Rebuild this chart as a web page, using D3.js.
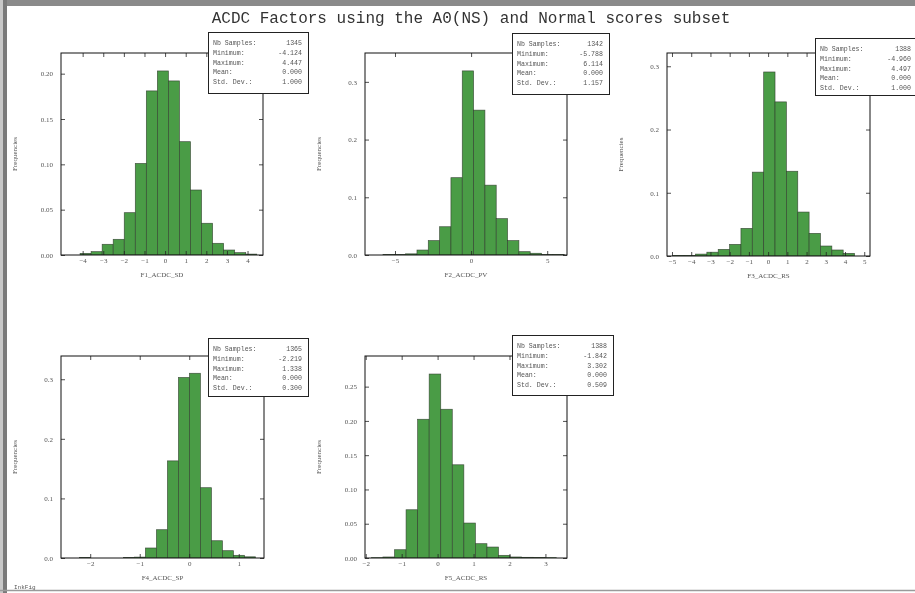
<!DOCTYPE html>
<html>
<head>
<meta charset="utf-8">
<script src="https://cdn.jsdelivr.net/npm/d3@7"></script>
<style>
  body { margin: 0; background: #fff; }
  svg { display: block; will-change: transform; }
  .tick-label { font-family: 'Liberation Serif', serif; font-size: 7px; fill: #555; }
  .ax-label { font-family: 'Liberation Serif', serif; font-size: 7px; fill: #555; }
  .box-text { font-family: 'Liberation Mono', monospace; font-size: 6.6px; fill: #555; }
  .title { font-family: 'Liberation Mono', monospace; font-size: 16px; fill: #333; }
</style>
</head>
<body>
<svg id="chart" width="915" height="593"></svg>
<script>
// ========== data

const title = 'ACDC Factors using the A0(NS) and Normal scores subset';
const factorNames = ['F1_ACDC_SD', 'F2_ACDC_PV', 'F3_ACDC_RS', 'F4_ACDC_SP', 'F5_ACDC_RS'];
const yLabel = 'Frequencies';

// 16 bins between min and max, frequency per bin
const f1Freq = [0.0018, 0.0037, 0.0118, 0.0173, 0.0467, 0.101, 0.181, 0.203, 0.192, 0.125, 0.0717, 0.035, 0.0129, 0.0055, 0.0026, 0.001];
const f2Freq = [0.0007, 0.0007, 0.002, 0.0086, 0.025, 0.049, 0.134, 0.319, 0.251, 0.121, 0.063, 0.025, 0.0058, 0.003, 0.0007, 0.0007];
const f3Freq = [0.001, 0.001, 0.003, 0.006, 0.0105, 0.0184, 0.0437, 0.1326, 0.291, 0.2437, 0.134, 0.0695, 0.0358, 0.0158, 0.0095, 0.0042];
const f4Freq = [0.0007, 0, 0, 0, 0.0007, 0.0015, 0.0168, 0.0475, 0.163, 0.303, 0.31, 0.118, 0.029, 0.0123, 0.0045, 0.002];
const f5Freq = [0.0005, 0.0015, 0.0121, 0.0704, 0.2024, 0.2684, 0.217, 0.136, 0.051, 0.0209, 0.016, 0.0039, 0.0015, 0.001, 0.0008, 0.0005];

const nbSamples = [1345, 1342, 1388, 1365, 1388];
const minimums  = [-4.124, -5.788, -4.960, -2.219, -1.842];
const maximums  = [4.447, 6.114, 4.497, 1.338, 3.302];
const means     = [0.000, 0.000, 0.000, 0.000, 0.000];
const stdDevs   = [1.000, 1.157, 1.000, 0.300, 0.509];

// axis limits and ticks
const xLimits = [[-5.05, 4.75], [-6.97, 6.3], [-5.26, 5.3], [-2.59, 1.51], [-2.02, 3.6]];
const yLimits = [[0, 0.2228], [0, 0.35], [0, 0.321], [0, 0.339], [0, 0.2947]];
const xTicks = [
  [-4, -3, -2, -1, 0, 1, 2, 3, 4],
  [-5, 0, 5],
  [-5, -4, -3, -2, -1, 0, 1, 2, 3, 4, 5],
  [-2, -1, 0, 1],
  [-2, -1, 0, 1, 2, 3]
];
const yTicks = [
  [0, 0.05, 0.10, 0.15, 0.20],
  [0, 0.1, 0.2, 0.3],
  [0, 0.1, 0.2, 0.3],
  [0, 0.1, 0.2, 0.3],
  [0, 0.05, 0.10, 0.15, 0.20, 0.25]
];
const yFormats = ['.2f', '.1f', '.1f', '.1f', '.2f'];

const freqs = [f1Freq, f2Freq, f3Freq, f4Freq, f5Freq];

// ========== layout

const axesBoxes = [ // left, top, width, height
  [61, 53, 202, 202],
  [365, 53, 202, 202],
  [667, 53, 203, 203],
  [61, 356, 203, 202],
  [365, 356, 202, 202]
];
const statBoxes = [ // x, y, w, h
  [208, 32, 100, 61],
  [512, 33, 97, 61],
  [815, 38, 102, 57],
  [208, 338, 100, 58],
  [512, 335, 101, 60]
];

const barFill = '#4a9c46';
const barStroke = '#2e3a2c';

const svg = d3.select('#chart');

// window frame
svg.append('rect').attr('x', 0).attr('y', 0).attr('width', 915).attr('height', 6).attr('fill', '#8a8a8a');
svg.append('rect').attr('x', 0).attr('y', 0).attr('width', 7).attr('height', 593).attr('fill', '#7a7a7a');
svg.append('rect').attr('x', 0).attr('y', 0).attr('width', 3).attr('height', 593).attr('fill', '#c8c8c8');
svg.append('line').attr('x1', 0).attr('x2', 915).attr('y1', 590.5).attr('y2', 590.5)
  .attr('stroke', '#9a9a9a').attr('stroke-width', 1.5);
svg.append('text').attr('x', 14).attr('y', 589).attr('class', 'box-text').style('font-size', '6px').text('InkFig');

svg.append('text')
  .attr('class', 'title')
  .attr('x', 471).attr('y', 23)
  .attr('text-anchor', 'middle')
  .text(title);

// ========== panels

freqs.forEach(function(freq, i) {
  const [left, top, w, h] = axesBoxes[i];
  const x = d3.scaleLinear().domain(xLimits[i]).range([left, left + w]);
  const y = d3.scaleLinear().domain(yLimits[i]).range([top + h, top]);
  const binW = (maximums[i] - minimums[i]) / freq.length;
  const bins = freq.map(function(f, k) {
    return { x0: minimums[i] + k * binW, x1: minimums[i] + (k + 1) * binW, f: f };
  });

  const g = svg.append('g');

  g.append('defs').append('clipPath').attr('id', 'clip' + i)
    .append('rect').attr('x', left).attr('y', top).attr('width', w).attr('height', h);

  g.append('g').attr('clip-path', 'url(#clip' + i + ')')
    .selectAll('rect').data(bins).enter().append('rect')
    .attr('x', function(d) { return x(d.x0); })
    .attr('width', function(d) { return x(d.x1) - x(d.x0); })
    .attr('y', function(d) { return y(d.f); })
    .attr('height', function(d) { return y(0) - y(d.f); })
    .attr('fill', barFill)
    .attr('stroke', barStroke)
    .attr('stroke-opacity', 0.8)
    .attr('stroke-width', 0.7);

  // bottom and left axes, ticks inside
  const fmtY = d3.format(yFormats[i]);
  const xb = g.append('g').attr('transform', 'translate(0,' + (top + h) + ')')
    .call(d3.axisBottom(x).tickValues(xTicks[i]).tickSizeInner(-4).tickSizeOuter(0).tickPadding(3)
      .tickFormat(d3.format('d')));
  const yl = g.append('g').attr('transform', 'translate(' + left + ',0)')
    .call(d3.axisLeft(y).tickValues(yTicks[i]).tickSizeInner(-4).tickSizeOuter(0).tickPadding(8)
      .tickFormat(fmtY));
  // mirror ticks on top and right
  const xt = g.append('g').attr('transform', 'translate(0,' + top + ')')
    .call(d3.axisTop(x).tickValues(xTicks[i]).tickSizeInner(-4).tickSizeOuter(0).tickFormat(''));
  const yr = g.append('g').attr('transform', 'translate(' + (left + w) + ',0)')
    .call(d3.axisRight(y).tickValues(yTicks[i]).tickSizeInner(-4).tickSizeOuter(0).tickFormat(''));

  [xb, yl, xt, yr].forEach(function(a) {
    a.select('.domain').remove();
    a.selectAll('.tick line').attr('stroke', '#222').attr('stroke-width', 0.8);
    a.selectAll('.tick text').attr('class', 'tick-label').attr('fill', null);
  });

  g.append('rect')
    .attr('x', left).attr('y', top).attr('width', w).attr('height', h)
    .attr('fill', 'none').attr('stroke', '#111').attr('stroke-width', 1);

  g.append('text').attr('class', 'ax-label')
    .attr('x', left + w / 2).attr('y', top + h + 22)
    .attr('text-anchor', 'middle')
    .text(factorNames[i]);

  g.append('text').attr('class', 'ax-label')
    .attr('transform', 'translate(' + (left - 44) + ',' + (top + h / 2) + ') rotate(-90)')
    .attr('text-anchor', 'middle')
    .text(yLabel);

  // statistics box
  const [bx, by, bw, bh] = statBoxes[i];
  g.append('rect').attr('x', bx + 0.5).attr('y', by + 0.5).attr('width', bw).attr('height', bh)
    .attr('fill', '#fff').attr('stroke', '#222').attr('stroke-width', 1);
  const rows = [
    ['Nb Samples:', String(nbSamples[i])],
    ['Minimum:', minimums[i].toFixed(3)],
    ['Maximum:', maximums[i].toFixed(3)],
    ['Mean:', means[i].toFixed(3)],
    ['Std. Dev.:', stdDevs[i].toFixed(3)]
  ];
  rows.forEach(function(r, k) {
    const ty = by + 13 + k * 9.8;
    g.append('text').attr('class', 'box-text').attr('x', bx + 5).attr('y', ty).text(r[0]);
    g.append('text').attr('class', 'box-text').attr('x', bx + bw - 6).attr('y', ty)
      .attr('text-anchor', 'end').text(r[1]);
  });
});
</script>
</body>
</html>
